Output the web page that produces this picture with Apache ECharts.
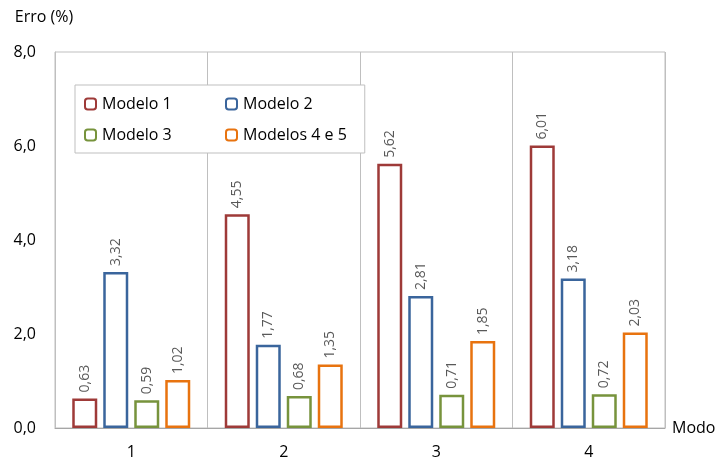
<!DOCTYPE html>
<html>
<head>
<meta charset="utf-8">
<script src="https://cdn.jsdelivr.net/npm/echarts@6/dist/echarts.min.js"></script>
<style>html,body{margin:0;padding:0;background:#fff;}#c{width:723px;height:463px;}</style>
</head>
<body>
<div id="c"></div>
<script>
const categories = ['1', '2', '3', '4'];
const seriesNames = ['Modelo 1', 'Modelo 2', 'Modelo 3', 'Modelos 4 e 5'];
const modelo1 = [0.63, 4.55, 5.62, 6.01];
const modelo2 = [3.32, 1.77, 2.81, 3.18];
const modelo3 = [0.59, 0.68, 0.71, 0.72];
const modelos45 = [1.02, 1.35, 1.85, 2.03];
const yTicks = [0, 2, 4, 6, 8];

const colors = ['#9E3A38', '#3A659C', '#77933C', '#E8730F'];
const values = [modelo1, modelo2, modelo3, modelos45];
const FONT = 'Open Sans';
const fmt = v => v.toFixed(2).replace('.', ',');

const chart = echarts.init(document.getElementById('c'));
chart.setOption({
  animation: false,
  textStyle: { fontFamily: FONT },
  grid: { left: 55, right: 58, top: 52, bottom: 35, show: true, borderColor: '#bfbfbf', borderWidth: 1, backgroundColor: 'transparent' },
  legend: [
    {
      data: [seriesNames[0], seriesNames[2]],
      orient: 'vertical',
      left: 75, top: 85,
      padding: [11, 193, 10, 9],
      itemGap: 15,
      itemWidth: 11, itemHeight: 11,
      backgroundColor: '#fff',
      borderColor: '#bfbfbf', borderWidth: 1,
      textStyle: { fontSize: 16, color: '#000', fontFamily: FONT, padding: [0, 0, 0, 1] },
      z: 10
    },
    {
      data: [seriesNames[1], seriesNames[3]],
      orient: 'vertical',
      left: 216, top: 85,
      padding: [11, 5, 10, 9],
      itemGap: 15,
      itemWidth: 11, itemHeight: 11,
      textStyle: { fontSize: 16, color: '#000', fontFamily: FONT, padding: [0, 0, 0, 1] },
      z: 11
    }
  ],
  xAxis: {
    type: 'category',
    data: categories,
    name: 'Modo',
    nameLocation: 'end',
    nameGap: 7,
    nameTextStyle: { fontSize: 16, color: '#000', verticalAlign: 'middle', padding: [0, 0, 6, 0] },
    axisLine: { show: true, lineStyle: { color: '#a6a6a6', width: 1 } },
    axisTick: { show: false },
    axisLabel: { fontSize: 16, color: '#000', margin: 16 },
    splitLine: { show: true, lineStyle: { color: '#bfbfbf', width: 1 } }
  },
  yAxis: {
    type: 'value',
    min: yTicks[0], max: yTicks[yTicks.length - 1], interval: 2,
    name: 'Erro (%)',
    nameLocation: 'end',
    nameGap: 27,
    nameTextStyle: { fontSize: 16, color: '#000', align: 'center', padding: [0, 22, 0, 0] },
    axisLine: { show: true, lineStyle: { color: '#bfbfbf', width: 1 } },
    axisTick: { show: false },
    splitLine: { show: false },
    axisLabel: { fontSize: 16, color: '#000', margin: 19, formatter: v => v.toFixed(1).replace('.', ',') }
  },
  series: values.map((arr, i) => ({
    name: seriesNames[i],
    type: 'bar',
    data: arr,
    barWidth: 25,
    barGap: '24%',
    itemStyle: { color: '#fff', borderColor: colors[i], borderWidth: 2.5 },
    label: {
      show: true,
      position: 'top',
      rotate: 90,
      align: 'left',
      verticalAlign: 'middle',
      distance: 6,
      fontSize: 14,
      color: '#595959',
      formatter: p => fmt(p.value)
    }
  }))
});
</script>
</body>
</html>
